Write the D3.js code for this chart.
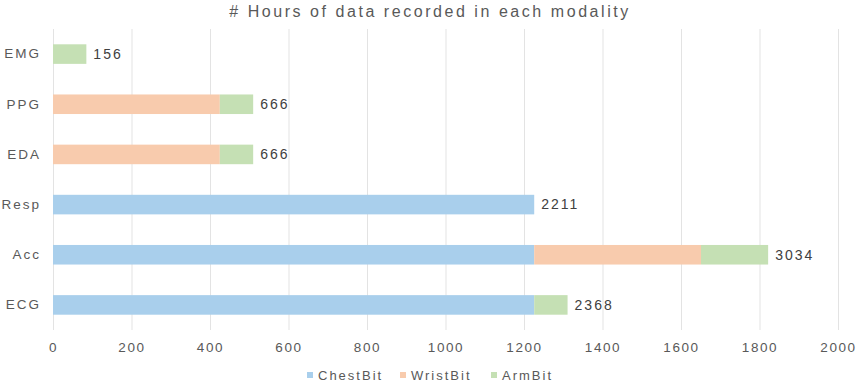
<!DOCTYPE html>
<html>
<head>
<meta charset="utf-8">
<script src="https://cdn.jsdelivr.net/npm/d3@7"></script>
<style>
  body { margin: 0; background: #fff; }
  svg { display: block; font-family: "Liberation Sans", Arial, sans-serif; }
</style>
</head>
<body>
<svg id="chart"></svg>
<script>
// modalities, top to bottom
const modalities = ['EMG', 'PPG', 'EDA', 'Resp', 'Acc', 'ECG']
// hours per device (as drawn)
const chestBit = [0, 0, 0, 1226, 1226, 1226]
const wristBit = [0, 425, 425, 0, 425, 0]
const armBit = [85, 85, 85, 0, 171, 85]
// total labels shown at the end of each bar
const totalLabels = ['156', '666', '666', '2211', '3034', '2368']
const xTicks = [0, 200, 400, 600, 800, 1000, 1200, 1400, 1600, 1800, 2000]
const seriesNames = ['ChestBit', 'WristBit', 'ArmBit']
const seriesColors = ['#A9CFEC', '#F8CBAD', '#C5E0B4']

const width = 858, height = 384
const margin = {top: 29, right: 20, bottom: 54, left: 53}

const rows = modalities.map((m, i) => ({
    modality: m,
    ChestBit: chestBit[i],
    WristBit: wristBit[i],
    ArmBit: armBit[i],
    label: totalLabels[i]
}))

const svg = d3.select('#chart')
    .attr('width', width)
    .attr('height', height)

// x scale in hours, y scale as bands of modalities
const xScale = d3.scaleLinear()
    .domain([0, 2000])
    .range([margin.left, width - margin.right])

const yScale = d3.scaleBand()
    .domain(modalities)
    .range([margin.top, height - margin.bottom])
    .paddingInner(0.61)
    .paddingOuter(0.305)

// title
svg.append('text')
    .attr('x', 430)
    .attr('y', 17)
    .attr('text-anchor', 'middle')
    .attr('fill', '#595959')
    .attr('font-size', 16)
    .attr('letter-spacing', 2.55)
    .text('# Hours of data recorded in each modality')

// vertical grid lines
svg.append('g')
    .selectAll('line')
    .data(xTicks)
    .enter().append('line')
    .attr('x1', d => xScale(d) + 0.5)
    .attr('x2', d => xScale(d) + 0.5)
    .attr('y1', margin.top)
    .attr('y2', height - margin.bottom)
    .attr('stroke', '#E3E3E3')
    .attr('stroke-width', 1)

// x axis labels
const xAxis = d3.axisBottom(xScale)
    .tickValues(xTicks)
    .tickSize(0)
    .tickPadding(12)
    .tickFormat(d3.format('d'))
svg.append('g')
    .attr('transform', `translate(0, ${height - margin.bottom})`)
    .call(xAxis)
    .call(g => g.select('.domain').remove())
    .call(g => g.selectAll('text')
        .attr('fill', '#595959')
        .attr('font-size', 13.5)
        .attr('letter-spacing', 1.6)
        .attr('font-family', '"Liberation Sans", Arial, sans-serif'))

// y axis labels
const yAxis = d3.axisLeft(yScale)
    .tickSize(0)
    .tickPadding(12)
svg.append('g')
    .attr('transform', `translate(${margin.left}, 0)`)
    .call(yAxis)
    .call(g => g.select('.domain').remove())
    .call(g => g.selectAll('text')
        .attr('fill', '#595959')
        .attr('font-size', 13.5)
        .attr('letter-spacing', 2)
        .attr('font-family', '"Liberation Sans", Arial, sans-serif'))

// stacked bars
const stacked = d3.stack().keys(seriesNames)(rows)
svg.append('g')
    .selectAll('g')
    .data(stacked)
    .enter().append('g')
    .attr('fill', (d, i) => seriesColors[i])
    .selectAll('rect')
    .data(d => d.filter(s => s[1] > s[0]))
    .enter().append('rect')
    .attr('x', d => xScale(d[0]))
    .attr('y', d => yScale(d.data.modality))
    .attr('width', d => xScale(d[1]) - xScale(d[0]))
    .attr('height', yScale.bandwidth())

// total labels
svg.append('g')
    .selectAll('text')
    .data(rows)
    .enter().append('text')
    .attr('x', d => xScale(d.ChestBit + d.WristBit + d.ArmBit) + 7)
    .attr('y', d => yScale(d.modality) + yScale.bandwidth() / 2)
    .attr('dy', '0.35em')
    .attr('fill', '#404040')
    .attr('font-size', 14)
    .attr('letter-spacing', 2)
    .text(d => d.label)

// legend
const legendX = [307, 400, 491]
const legend = svg.append('g')
    .selectAll('g')
    .data(seriesNames)
    .enter().append('g')
    .attr('transform', (d, i) => `translate(${legendX[i]}, 375)`)
legend.append('rect')
    .attr('x', 0)
    .attr('y', -3)
    .attr('width', 6)
    .attr('height', 6)
    .attr('fill', (d, i) => seriesColors[i])
legend.append('text')
    .attr('x', 11)
    .attr('dy', '0.35em')
    .attr('fill', '#595959')
    .attr('font-size', 13)
    .attr('letter-spacing', 2)
    .text(d => d)
</script>
</body>
</html>
